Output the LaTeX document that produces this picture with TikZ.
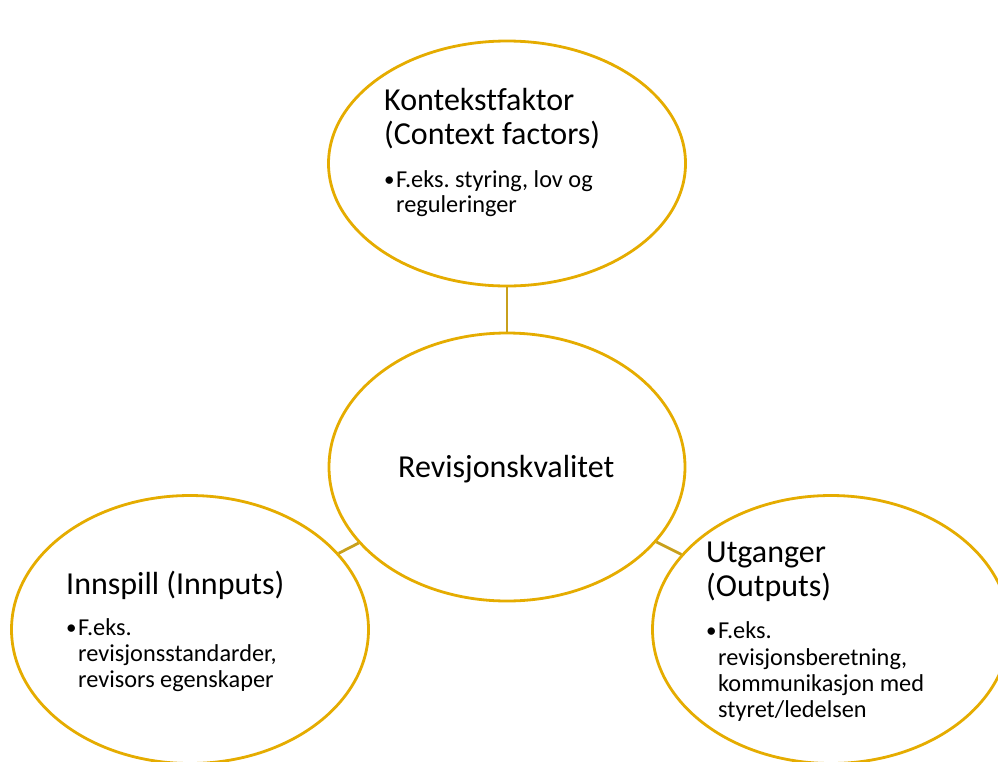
\documentclass[tikz,border=0pt]{standalone}
\usepackage{fontspec}
\setmainfont[Ligatures=NoCommon]{Carlito}
\usetikzlibrary{shapes.geometric}
\definecolor{ringgold}{RGB}{229,172,0}
\definecolor{linkgold}{RGB}{200,160,28}
\tikzset{
  ring/.style={ellipse, draw=ringgold, line width=2.8pt, fill=white, inner sep=0pt},
  link/.style={draw=linkgold, line width=2.8pt},
  title/.style={anchor=base west, inner sep=0pt, font=\fontsize{32}{34}\selectfont},
  item/.style={anchor=base west, inner sep=0pt, font=\fontsize{24.3}{26}\selectfont},
  dot/.style={anchor=base west, inner sep=0pt, font=\fontsize{21}{26}\selectfont},
}
\frenchspacing
\begin{document}
\begin{tikzpicture}[x=1pt,y=-1pt]
\useasboundingbox (0,0) rectangle (998,761);
\clip (0,0) rectangle (998,761);
% ellipses
\node[ring, minimum width=357pt, minimum height=245pt] (top) at (507,163.5) {};
\node[ring, minimum width=356pt, minimum height=268pt] (mid) at (507,467) {};
\node[ring, minimum width=357pt, minimum height=268pt] (left) at (190,629.5) {};
\node[ring, minimum width=357pt, minimum height=268pt] (right) at (831,629.5) {};
% connectors
\draw[link] (top) -- (mid);
\draw[link] (mid) -- (left);
\draw[link] (mid) -- (right);
% top texts
\node[title] (t1) at (384,110) {Kontekstfaktor};
\node[title] (t2) at (384,144) {(Context factors)};
\node[dot] (tb) at (384,186) {•};
\node[item] (ti1) at (396,187) {F.eks. styring, lov og};
\node[item] (ti2) at (396,212) {reguleringer};
% center text
\node[title] (m1) at (398,477) {Revisjonskvalitet};
% left texts
\node[title] (l1) at (66,594) {Innspill (Innputs)};
\node[dot] (lb) at (66,634) {•};
\node[item] (li1) at (78,635) {F.eks.};
\node[item] (li2) at (78,661) {revisjonsstandarder,};
\node[item] (li3) at (78,687) {revisors egenskaper};
% right texts
\node[title] (r1) at (706,562) {Utganger};
\node[title] (r2) at (706,596) {(Outputs)};
\node[dot] (rb) at (706,637) {•};
\node[item] (ri1) at (718,638) {F.eks.};
\node[item] (ri2) at (718,665) {revisjonsberetning,};
\node[item] (ri3) at (718,691) {kommunikasjon med};
\node[item] (ri4) at (718,717) {styret/ledelsen};
\end{tikzpicture}
\end{document}
